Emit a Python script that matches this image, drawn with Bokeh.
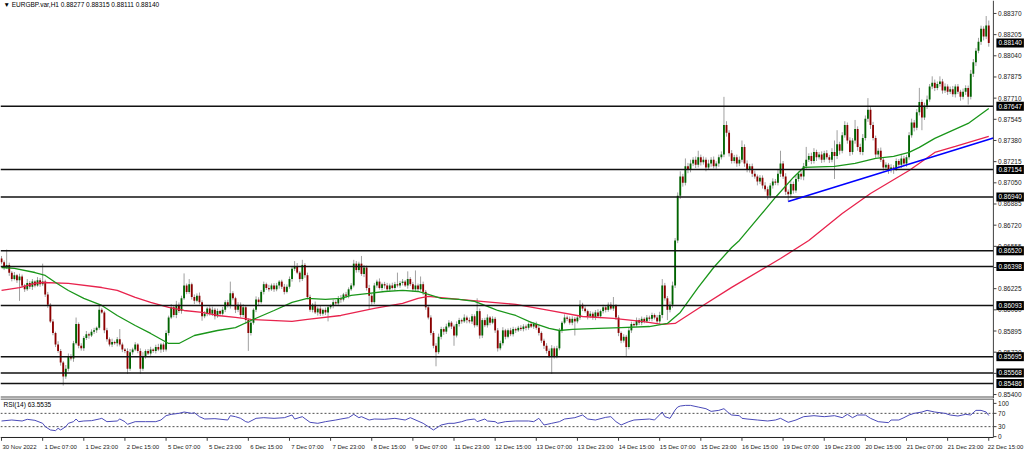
from bokeh.plotting import figure
from bokeh.layouts import column
from bokeh.models import (ColumnDataSource, FixedTicker, LinearAxis, Range1d, Span, Label)
from bokeh.core.properties import value
from bokeh.embed import file_html
from bokeh.resources import INLINE

# ---------------- data (prices in 1e-5 points) ----------------
symbol_title = "\u25bc EURGBP.var,H1  0.88277 0.88315 0.88111 0.88140"
rsi_title = "RSI(14) 63.5535"

first_open = 86460
closes = [
    86430, 86390, 86410, 86350, 86300, 86330, 86290, 86320, 86250, 86220, 86270, 86240, 86280, 86250, 86290, 86260,
    86280, 86180, 86100, 85970, 85880, 85790, 85740, 85650, 85540, 85600, 85700, 85680, 85800, 85950, 85780, 85760,
    85840, 85870, 85860, 85890, 85900, 85920, 86060, 86040, 85900, 85830, 85790, 85810, 85800, 85830, 85790, 85750,
    85740, 85600, 85730, 85750, 85790, 85740, 85600, 85700, 85740, 85720, 85750, 85740, 85770, 85750, 85790, 85750,
    85880, 86000, 86080, 86020, 86100, 86050, 86150, 86250, 86200, 86260, 86160, 86130, 86170, 86120, 86010, 86030,
    86070, 86030, 86060, 86010, 86050, 86030, 86060, 86120, 86090, 86190, 86150, 86060, 86100, 86020, 86080, 85980,
    85880, 85960, 86060, 86140, 86120, 86200, 86260, 86230, 86220, 86250, 86220, 86250, 86280, 86240, 86200, 86240,
    86300, 86380, 86400, 86350, 86300, 86410, 86330, 86160, 86060, 86100, 86040, 86070, 86030, 86060, 86040, 86080,
    86090, 86120, 86110, 86150, 86140, 86180, 86170, 86220, 86250, 86420, 86370, 86420, 86340, 86390, 86230, 86170,
    86120, 86250, 86280, 86230, 86260, 86250, 86220, 86250, 86230, 86260, 86250, 86270, 86280, 86250, 86300, 86260,
    86220, 86250, 86220, 86260, 86200, 86080, 86000, 85880, 85780, 85730, 85850, 85910, 85890, 85930, 85960, 85930,
    85860, 85950, 85980, 85970, 86000, 85980, 85970, 86010, 85940, 86050, 85860, 85980, 85940, 86000, 85960, 85990,
    85900, 85760, 85800, 85900, 85850, 85900, 85870, 85910, 85900, 85920, 85910, 85930, 85920, 85950, 85930, 85950,
    85920, 85880, 85820, 85780, 85740, 85700, 85760, 85700, 85760, 85900, 85960, 86000, 85990, 85960, 85990, 85970,
    86000, 86100, 86070, 86050, 86010, 86030, 86000, 86040, 86010, 86050, 86080, 86060, 86100, 86070, 86090, 86000,
    85880, 85820, 85850, 85770, 85900, 85950, 85940, 85980, 85960, 85990, 85970, 86000, 85990, 86020, 86000, 85970,
    86020, 86250, 86150, 86060, 86100, 86250, 86600, 86950, 87100, 87050, 87180, 87150, 87200, 87230, 87190, 87250,
    87210, 87230, 87170, 87200, 87230, 87180, 87200, 87250, 87270, 87500, 87440, 87280, 87220, 87250, 87200, 87230,
    87330, 87200, 87150, 87180, 87120, 87100, 87060, 87090, 87030, 87000, 86950, 87030, 87060, 87050, 87120, 87200,
    87100, 86980, 86960, 87040, 86990, 87080, 87120, 87100, 87180, 87230, 87260, 87220, 87290, 87250, 87270, 87230,
    87280, 87250, 87230, 87290, 87260, 87350, 87300, 87420, 87500, 87380, 87290, 87380, 87470, 87330, 87290, 87400,
    87550, 87620, 87500, 87400, 87270, 87300, 87230, 87170, 87190, 87150, 87170, 87160, 87220, 87190, 87240, 87200,
    87250, 87420, 87520, 87480, 87600, 87680, 87560, 87650, 87700, 87800, 87830, 87790, 87820, 87840, 87770, 87800,
    87760, 87780, 87740, 87800, 87760, 87720, 87760, 87790, 87720, 87900, 87990, 88080, 88150, 88250, 88190, 88277,
    88140]

up_wick = [
    20, 15, 120, 18, 12, 25, 10, 22, 15, 12, 30, 14, 20, 10, 25, 18,
    140, 15, 20, 12, 18, 10, 25, 15, 12, 30, 20, 15, 18, 50, 12, 20,
    15, 25, 12, 18, 20, 10, 30, 15, 12, 20, 15, 25, 10, 18, 80, 15,
    12, 20, 25, 15, 18, 10, 20, 30, 12, 15, 22, 10, 18, 25, 12, 15,
    20, 15, 25, 12, 30, 18, 20, 94, 15, 40, 12, 20, 18, 25, 15, 20,
    12, 18, 25, 15, 20, 10, 22, 15, 18, 90, 15, 12, 20, 18, 25, 10,
    15, 20, 12, 25, 18, 15, 20, 12, 25, 15, 18, 20, 12, 15, 22, 18,
    20, 15, 40, 25, 12, 40, 15, 20, 18, 12, 25, 15, 20, 10, 18, 15,
    12, 20, 15, 18, 25, 12, 20, 15, 18, 30, 20, 15, 60, 20, 15, 25,
    18, 20, 15, 25, 12, 18, 20, 15, 22, 18, 90, 15, 20, 12, 60, 15,
    18, 117, 15, 60, 20, 15, 12, 18, 15, 20, 25, 18, 15, 22, 20, 12,
    15, 20, 18, 12, 25, 15, 20, 18, 15, 100, 20, 15, 18, 25, 12, 20,
    15, 18, 20, 25, 12, 15, 20, 18, 12, 15, 20, 18, 15, 12, 20, 15,
    18, 25, 12, 15, 20, 18, 25, 15, 20, 18, 12, 25, 15, 18, 20, 15,
    20, 35, 15, 18, 12, 20, 15, 18, 25, 12, 20, 15, 18, 20, 70, 15,
    18, 12, 20, 15, 25, 18, 12, 20, 15, 18, 12, 20, 15, 18, 12, 20,
    25, 50, 20, 18, 25, 30, 20, 25, 40, 20, 60, 25, 30, 20, 25, 50,
    20, 25, 18, 30, 20, 25, 18, 20, 25, 220, 30, 20, 25, 18, 20, 25,
    50, 20, 25, 18, 20, 25, 15, 20, 18, 25, 20, 18, 25, 20, 30, 100,
    20, 25, 18, 30, 20, 25, 18, 20, 25, 100, 20, 25, 30, 18, 20, 25,
    20, 25, 18, 30, 90, 110, 20, 25, 30, 20, 25, 18, 70, 20, 25, 30,
    25, 90, 20, 25, 18, 20, 25, 18, 20, 15, 25, 18, 20, 15, 25, 20,
    18, 25, 30, 20, 25, 110, 20, 25, 30, 20, 50, 25, 20, 40, 20, 25,
    18, 20, 25, 18, 20, 15, 25, 20, 18, 30, 25, 20, 30, 25, 20, 73,
    38]

dn_wick = [
    15, 20, 12, 25, 18, 10, 20, 160, 15, 20, 12, 18, 25, 15, 10, 20,
    15, 20, 25, 12, 18, 20, 15, 25, 70, 18, 20, 15, 25, 12, 20, 18,
    20, 15, 25, 12, 18, 20, 15, 10, 22, 18, 15, 20, 12, 25, 15, 20,
    18, 40, 15, 20, 12, 18, 40, 15, 20, 12, 18, 15, 20, 12, 25, 18,
    15, 20, 12, 18, 25, 15, 20, 12, 18, 15, 20, 25, 12, 18, 35, 15,
    20, 15, 18, 25, 12, 20, 15, 18, 12, 20, 15, 25, 18, 20, 15, 30,
    140, 20, 15, 18, 25, 12, 20, 15, 18, 12, 20, 15, 25, 18, 20, 12,
    15, 20, 18, 12, 25, 15, 20, 18, 15, 20, 12, 25, 18, 15, 20, 70,
    15, 18, 20, 12, 25, 15, 18, 20, 12, 15, 20, 18, 15, 25, 20, 110,
    20, 15, 18, 12, 20, 25, 15, 18, 12, 20, 15, 18, 20, 12, 25, 15,
    20, 15, 18, 12, 25, 20, 15, 18, 20, 110, 15, 20, 25, 18, 12, 20,
    80, 15, 20, 18, 12, 25, 15, 20, 18, 12, 25, 20, 15, 18, 20, 12,
    20, 25, 15, 18, 20, 12, 15, 18, 20, 12, 15, 18, 20, 15, 12, 18,
    15, 20, 18, 25, 20, 15, 140, 20, 18, 15, 20, 12, 18, 15, 20, 110,
    15, 18, 20, 12, 25, 15, 18, 20, 12, 15, 18, 20, 15, 12, 18, 20,
    25, 20, 15, 70, 18, 20, 15, 12, 18, 20, 15, 12, 18, 20, 15, 18,
    20, 25, 18, 80, 20, 25, 20, 20, 25, 30, 20, 25, 18, 20, 25, 20,
    25, 18, 30, 20, 25, 18, 20, 25, 18, 20, 30, 25, 20, 18, 25, 20,
    20, 25, 18, 20, 25, 18, 30, 20, 25, 18, 30, 20, 25, 18, 20, 25,
    20, 25, 55, 20, 25, 18, 20, 25, 30, 20, 18, 25, 20, 30, 18, 25,
    20, 18, 25, 20, 180, 25, 30, 20, 18, 25, 30, 20, 25, 30, 20, 25,
    20, 25, 30, 20, 25, 20, 18, 25, 20, 30, 20, 40, 18, 20, 25, 20,
    25, 20, 18, 30, 20, 25, 100, 20, 25, 18, 20, 25, 18, 20, 25, 20,
    25, 18, 20, 25, 18, 30, 20, 25, 60, 20, 25, 30, 20, 25, 30, 20,
    29]

# moving averages (bar index, price points)
green_bars = [0, 5, 13, 17, 21, 26, 32, 39, 45, 52, 58, 65, 69, 75, 84, 91, 97, 106, 113, 119,
              126, 132, 136, 143, 149, 156, 162, 166, 171, 178, 184, 191, 193, 200, 206, 213, 217, 222, 232, 241,
              252, 259, 264, 271, 277, 284, 287, 301, 308, 312, 324, 332, 340, 347, 353, 357, 363, 376, 384]
green_vals = [86390, 86383, 86351, 86328, 86273, 86211, 86149, 86094, 86016, 85938, 85876, 85798, 85798, 85860, 85899, 85922, 85977, 86055, 86118, 86149,
              86141, 86149, 86172, 86188, 86203, 86211, 86203, 86180, 86149, 86141, 86126, 86071, 86055, 86016, 85962, 85915, 85899, 85907, 85915, 85922,
              85930, 85954, 86040, 86235, 86390, 86546, 86601, 86936, 87092, 87170, 87178, 87201, 87240, 87256, 87287, 87326, 87396, 87513, 87630]
red_bars = [0, 7, 13, 16, 26, 39, 45, 52, 58, 65, 71, 78, 84, 91, 97, 113, 119, 132, 145, 156,
            162, 166, 178, 191, 200, 213, 226, 238, 249, 257, 262, 271, 284, 303, 314, 327, 338, 353, 363, 371, 384]
red_vals = [86211, 86234, 86266, 86273, 86266, 86234, 86211, 86157, 86118, 86079, 86055, 86040, 86016, 86001, 85985, 85970, 85985, 86016, 86071, 86110,
            86149, 86165, 86141, 86118, 86102, 86055, 86008, 85993, 85970, 85946, 85954, 86071, 86235, 86460, 86601, 86811, 86967, 87146, 87287, 87334, 87412]

trend_bars = [306, 385.8]
trend_vals = [0.86905, 0.87400]

level_values = [0.87647, 0.87154, 0.86940, 0.86520, 0.86398, 0.86093, 0.85695, 0.85568, 0.85486]
last_price = 0.88140

price_ticks = [0.85400, 0.85565, 0.85730, 0.85895, 0.86060, 0.86225, 0.86390, 0.86555, 0.86720, 0.86885,
               0.87050, 0.87215, 0.87380, 0.87545, 0.87710, 0.87875, 0.88040, 0.88205, 0.88370]

rsi_bars = [0, 4, 8, 10, 13, 16, 17, 19, 21, 22, 23, 25, 26, 28, 29, 30, 32, 35, 38, 39,
            41, 45, 46, 48, 49, 52, 56, 60, 62, 64, 66, 69, 71, 74, 75, 77, 79, 83, 88, 89,
            91, 93, 95, 96, 99, 102, 106, 110, 113, 114, 117, 120, 123, 126, 130, 132, 135, 137, 139, 140,
            143, 145, 149, 153, 157, 159, 164, 166, 168, 170, 171, 174, 176, 179, 181, 184, 185, 188, 189, 192,
            193, 196, 200, 205, 207, 209, 210, 211, 214, 217, 219, 223, 226, 228, 231, 235, 237, 239, 241, 244,
            246, 252, 254, 257, 258, 260, 262, 263, 264, 266, 268, 271, 274, 276, 279, 281, 283, 284, 287, 288,
            290, 294, 298, 301, 303, 306, 309, 312, 316, 320, 324, 327, 329, 331, 333, 336, 338, 341, 345, 346,
            349, 351, 353, 355, 358, 360, 363, 367, 369, 372, 375, 377, 379, 381, 383, 384]
rsi_vals = [47, 50, 47, 52, 49, 40, 30, 20, 18, 25, 20, 30, 40, 45, 53, 45, 47, 48, 53, 55,
            45, 47, 53, 45, 37, 45, 45, 45, 50, 63, 67, 70, 74, 70, 72, 60, 53, 54, 50, 63,
            60, 55, 45, 43, 55, 57, 55, 57, 65, 53, 60, 43, 40, 45, 50, 53, 57, 67, 57, 60,
            50, 53, 52, 55, 50, 57, 40, 30, 20, 30, 35, 40, 40, 45, 50, 53, 45, 53, 47, 45,
            40, 45, 47, 47, 45, 55, 45, 35, 40, 45, 53, 57, 65, 53, 50, 58, 60, 45, 35, 45,
            50, 53, 50, 74, 60, 55, 80, 89, 92, 94, 94, 89, 84, 76, 79, 84, 70, 65, 63, 55,
            53, 50, 47, 50, 55, 43, 50, 60, 63, 60, 63, 57, 67, 57, 65, 65, 55, 45, 42, 50,
            50, 57, 65, 70, 74, 79, 74, 70, 65, 62, 67, 65, 79, 79, 74, 63.5535]
rsi_ticks = [0, 30, 70, 100]
rsi_tick_labels = ["0", "30", "70", "100"]
rsi_levels = [30, 70]

time_tick_bars = [0, 16, 32, 48, 64, 80, 96, 112, 128, 144, 160, 176, 192, 208, 224, 240,
                  256, 272, 288, 304, 320, 336, 352, 368, 384]
time_labels = ["30 Nov 2022", "1 Dec 07:00", "1 Dec 23:00", "2 Dec 15:00", "5 Dec 07:00", "5 Dec 23:00",
               "6 Dec 15:00", "7 Dec 07:00", "7 Dec 23:00", "8 Dec 15:00", "9 Dec 07:00", "11 Dec 23:00",
               "12 Dec 15:00", "13 Dec 07:00", "13 Dec 23:00", "14 Dec 15:00", "15 Dec 07:00", "15 Dec 23:00",
               "16 Dec 15:00", "19 Dec 07:00", "19 Dec 23:00", "20 Dec 15:00", "21 Dec 07:00", "21 Dec 23:00",
               "22 Dec 15:00"]

# ---------------- styling / layout ----------------
FONT = "Liberation Sans"
FS = "6.5px"
FS_TIME = "6px"
BULL = "#006400"
BEAR = "#8b0000"
WICK = "#a0a0a0"
AXIS_COL = "#404040"
TEXT_COL = "#202020"
SCALE = 1e5
X0, X_END = -0.4, 397.9          # full canvas width in bar units
AXIS_BAR = 385.8                 # where the price scale starts
TICK_END = 387.0
TEXT_BAR = 387.6
Y0, Y1 = 0.85369, 0.88471        # main panel, 398 px tall
R0, R1 = -14.7, 114.7            # RSI panel, 44 px tall

opens = [first_open] + closes[:-1]
rows = list(zip(range(len(closes)), opens, closes, up_wick, dn_wick))
src = ColumnDataSource(dict(
    x=[r[0] for r in rows],
    top=[max(r[1], r[2]) / SCALE for r in rows],
    bottom=[min(r[1], r[2]) / SCALE for r in rows],
    high=[(max(r[1], r[2]) + r[3]) / SCALE for r in rows],
    low=[(min(r[1], r[2]) - r[4]) / SCALE for r in rows],
    color=[BULL if r[2] >= r[1] else BEAR for r in rows],
))

# ---------------- main price panel ----------------
p1 = figure(width=1024, height=398, x_range=Range1d(X0, X_END), y_range=Range1d(Y0, Y1),
            output_backend="svg", toolbar_location=None,
            x_axis_location=None, y_axis_location=None, min_border=0)
p1.background_fill_color = "white"
p1.border_fill_color = "white"
p1.outline_line_color = None
p1.xgrid.grid_line_color = None
p1.ygrid.grid_line_color = None

p1.segment(x0="x", y0="low", x1="x", y1="high", source=src, line_color=WICK, line_width=1)
p1.vbar(x="x", width=0.72, top="top", bottom="bottom", fill_color="color", line_color=None, source=src)

p1.line(red_bars, [v / SCALE for v in red_vals], line_color="#e8234d", line_width=1.3)
p1.line(green_bars, [v / SCALE for v in green_vals], line_color="#1a961a", line_width=1.3)

p1.segment(x0=X0, x1=AXIS_BAR, y0=level_values, y1=level_values, line_color="#111111", line_width=1.5)
p1.line(trend_bars, trend_vals, line_color="#0000ff", line_width=1.6)

# bottom separator of the price panel
SEP = Y0 + 0.00012
p1.segment(x0=[X0], x1=[AXIS_BAR], y0=[SEP], y1=[SEP], line_color="#a8a8a8", line_width=2)

# price scale (drawn on the right of the chart area)
p1.add_layout(Span(location=AXIS_BAR, dimension="height", line_color=AXIS_COL, line_width=1))
p1.segment(x0=AXIS_BAR, x1=TICK_END, y0=price_ticks, y1=price_ticks, line_color=AXIS_COL, line_width=1)
p1.text(x=TEXT_BAR, y=price_ticks, text=["%.5f" % t for t in price_ticks], text_font=value(FONT),
        text_font_size=value(FS), text_baseline="middle", text_align="left", text_color=TEXT_COL)

for lv in level_values + [last_price]:
    p1.add_layout(Label(x=AXIS_BAR, y=lv, text="%.5f" % lv, text_color="white", text_font=FONT,
                        text_font_size=FS, text_baseline="middle", text_align="left", x_offset=3,
                        background_fill_color="black", padding=2))

p1.add_layout(Label(x=3, y=394, x_units="screen", y_units="screen", text=symbol_title,
                    text_font=FONT, text_font_size=FS, text_baseline="middle", text_color="black"))

# ---------------- RSI panel ----------------
p2 = figure(width=1024, height=54, x_range=p1.x_range, y_range=Range1d(R0, R1),
            output_backend="svg", toolbar_location=None,
            x_axis_location=None, y_axis_location=None,
            min_border_left=0, min_border_right=0, min_border_top=0, min_border_bottom=10)
p2.background_fill_color = "white"
p2.border_fill_color = "white"
p2.outline_line_color = None
p2.xgrid.grid_line_color = None
p2.ygrid.grid_line_color = None

label_shift = [7] * (len(time_tick_bars) - 1) + [6.5]
label_pos = [b + s for b, s in zip(time_tick_bars, label_shift)]
xax = LinearAxis(ticker=FixedTicker(ticks=label_pos),
                 major_label_overrides={pos: lab for pos, lab in zip(label_pos, time_labels)},
                 major_tick_line_color=None, major_tick_out=0, major_tick_in=0,
                 minor_tick_line_color=None, minor_tick_out=0, minor_tick_in=0,
                 axis_line_color=None, major_label_standoff=2,
                 major_label_text_font=FONT, major_label_text_font_size=FS_TIME,
                 major_label_text_color=TEXT_COL)
p2.add_layout(xax, "below")

PANEL_TOP, PANEL_BOT, TICK_BOT = 113.2, -2.6, -12.5
for lv in rsi_levels:
    p2.segment(x0=[X0], x1=[AXIS_BAR], y0=[lv], y1=[lv], line_color="#505050", line_width=1,
               line_dash="2 2")

p2.line(rsi_bars, rsi_vals, line_color="#4a4ab8", line_width=1)

# panel frame lines, time tick marks and RSI scale
p2.segment(x0=X0, x1=AXIS_BAR, y0=[PANEL_TOP, PANEL_BOT], y1=[PANEL_TOP, PANEL_BOT],
           line_color="#202020", line_width=1)
p2.segment(x0=time_tick_bars, x1=time_tick_bars, y0=PANEL_BOT, y1=TICK_BOT,
           line_color=AXIS_COL, line_width=1)
p2.segment(x0=[AXIS_BAR], x1=[AXIS_BAR], y0=[R1], y1=[PANEL_BOT], line_color=AXIS_COL, line_width=1)
p2.segment(x0=AXIS_BAR, x1=TICK_END, y0=rsi_ticks, y1=rsi_ticks, line_color=AXIS_COL, line_width=1)
p2.text(x=TEXT_BAR, y=rsi_ticks, text=rsi_tick_labels, text_font=value(FONT),
        text_font_size=value(FS), text_baseline="middle", text_align="left", text_color=TEXT_COL)

p2.add_layout(Label(x=3, y=37.5, x_units="screen", y_units="screen", text=rsi_title,
                    text_font=FONT, text_font_size=FS, text_baseline="middle", text_color="black"))

layout = column(p1, p2)
open("out.html", "w").write(file_html(layout, INLINE))
